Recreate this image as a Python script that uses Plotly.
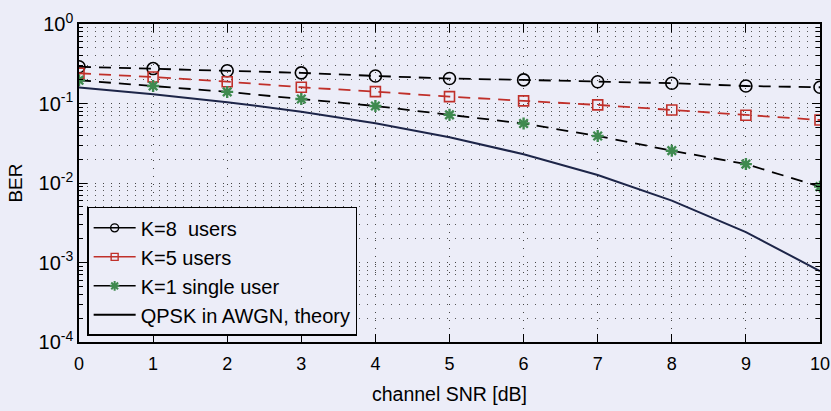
import plotly.graph_objects as go

# Channel SNR in dB
snr_db = [0, 1, 2, 3, 4, 5, 6, 7, 8, 9, 10]

# Bit error rate per configuration
ber_k8 = [0.290, 0.275, 0.258, 0.243, 0.222, 0.206, 0.198, 0.188, 0.180, 0.166, 0.160]
ber_k5 = [0.240, 0.215, 0.188, 0.160, 0.141, 0.122, 0.108, 0.096, 0.083, 0.071, 0.062]
ber_k1 = [0.196, 0.166, 0.140, 0.114, 0.093, 0.072, 0.056, 0.039, 0.0255, 0.0173, 0.0090]
ber_theory = [0.159, 0.131, 0.104, 0.0789, 0.0565, 0.0377, 0.0230, 0.0126, 0.0060, 0.00241, 0.00078]

legend_names = ["K=8  users", "K=5 users", "K=1 single user", "QPSK in AWGN, theory"]

y_major = [1e-4, 1e-3, 1e-2, 1e-1, 1e0]
y_major_text = ["10<sup>-4</sup>", "10<sup>-3</sup>", "10<sup>-2</sup>", "10<sup>-1</sup>", "10<sup>0</sup>"]
y_minor = [m * 10.0 ** e for e in range(-4, 0) for m in range(2, 10)]

BG = "#ecedf8"
RED = "#c0302a"
GREEN = "#3f8a4f"
NAVY = "#1d2548"
FONT = "Liberation Sans, Arial, sans-serif"
DASH = "12px,8px"

styles = [
    dict(line="black", marker=dict(symbol="circle-open", size=12, color="black", line=dict(width=1.6, color="black"))),
    dict(line=RED, marker=dict(symbol="square-open", size=10, color=RED, line=dict(width=1.6, color=RED))),
    dict(line="black", marker=dict(symbol="asterisk-open", size=10, color=GREEN, line=dict(width=2.4, color=GREEN))),
]
legend_markers = [
    dict(symbol="circle-open", size=8, color="black", line=dict(width=1.4, color="black")),
    dict(symbol="square-open", size=7, color=RED, line=dict(width=1.4, color=RED)),
    dict(symbol="asterisk-open", size=8, color=GREEN, line=dict(width=2, color=GREEN)),
]

fig = go.Figure()

# Simulated curves (dashed with markers)
for ys, st in zip([ber_k8, ber_k5, ber_k1], styles):
    fig.add_trace(go.Scatter(
        x=snr_db, y=ys, mode="lines+markers", showlegend=False,
        line=dict(color=st["line"], width=1.8, dash=DASH),
        marker=st["marker"],
    ))

# Theoretical curve
fig.add_trace(go.Scatter(
    x=snr_db, y=ber_theory, mode="lines", showlegend=False,
    line=dict(color=NAVY, width=2),
))

# Legend entries with compact symbols
for i, (name, st) in enumerate(zip(legend_names[:3], styles)):
    fig.add_trace(go.Scatter(
        x=[None], y=[None], name=name, legendgroup=str(i), mode="lines+markers",
        line=dict(color=st["line"], width=1.5), marker=legend_markers[i],
    ))
fig.add_trace(go.Scatter(
    x=[None], y=[None], name=legend_names[3], legendgroup="3", mode="lines",
    line=dict(color="black", width=2),
))

fig.update_layout(
    width=831, height=411,
    margin=dict(l=79, r=11, t=24, b=69),
    paper_bgcolor=BG, plot_bgcolor=BG,
    font=dict(family=FONT, color="black", size=18),
    legend=dict(
        x=0.011, y=0.425, xanchor="left", yanchor="top",
        bgcolor=BG, bordercolor="black", borderwidth=1.5,
        font=dict(size=20), tracegroupgap=0, itemwidth=42,
    ),
)

fig.update_xaxes(
    range=[0, 10], tickmode="linear", tick0=0, dtick=1, automargin=False,
    ticks="inside", ticklen=8, tickwidth=1.3, tickcolor="black",
    showline=True, linecolor="black", linewidth=1.5, mirror="ticks",
    showgrid=True, gridcolor="#444", gridwidth=1, griddash="1px,7px",
    zeroline=False, ticklabelstandoff=5,
    tickfont=dict(size=18),
    title=dict(text="channel SNR [dB]", font=dict(size=19.5), standoff=14),
)
fig.update_yaxes(
    type="log", range=[-4, 0], automargin=False,
    tickmode="array", tickvals=y_major, ticktext=y_major_text,
    ticks="inside", ticklen=8, tickwidth=1.3, tickcolor="black",
    showline=True, linecolor="black", linewidth=1.5, mirror="ticks",
    showgrid=True, gridcolor="#444", gridwidth=1, griddash="1px,7px",
    zeroline=False,
    tickfont=dict(size=20),
    minor=dict(
        tickmode="array", tickvals=y_minor, ticks="inside", ticklen=4,
        tickcolor="black", showgrid=True, gridcolor="#555", gridwidth=1,
        griddash="1px,7px",
    ),
    title=dict(text="BER", font=dict(size=19), standoff=11),
)

fig.write_html("out.html")
